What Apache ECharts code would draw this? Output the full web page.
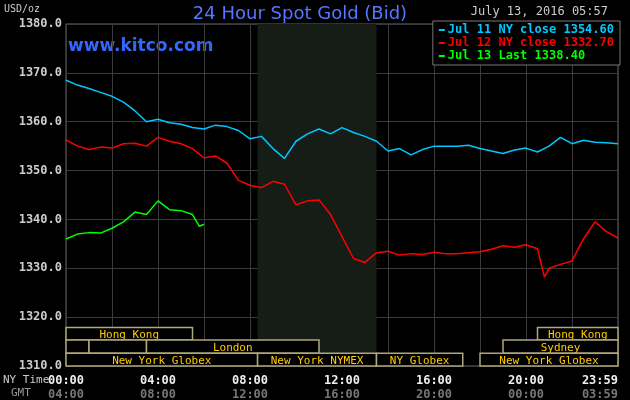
<!DOCTYPE html>
<html>
<head>
<meta charset="utf-8">
<script src="https://cdn.jsdelivr.net/npm/echarts@6/dist/echarts.min.js"></script>
<style>html,body{margin:0;padding:0;background:#000}#main{width:630px;height:400px}</style>
</head>
<body>
<div id="main"></div>
<script>
// hours since 00:00 NY time
var hoursA = [0,0.5,1,1.5,2,2.5,3,3.5,4,4.5,5,5.5,6,6.5,7,7.5,8,8.5,9,9.5,10,10.5,11,11.5,12,12.5,13,13.5,14,14.5,15,15.5,16,16.5,17,17.5,18,18.5,19,19.5,20,20.5,21,21.5,22,22.5,23,23.5,24];
var jul11 = [1368.5,1367.5,1366.8,1366.0,1365.2,1364.0,1362.2,1360.0,1360.5,1359.8,1359.5,1358.8,1358.5,1359.3,1359.0,1358.2,1356.5,1357.0,1354.5,1352.5,1356.0,1357.5,1358.5,1357.5,1358.8,1357.8,1357.0,1356.0,1354.0,1354.5,1353.2,1354.3,1355.0,1355.0,1355.0,1355.2,1354.5,1354.0,1353.5,1354.2,1354.6,1353.8,1355.0,1356.8,1355.5,1356.2,1355.8,1355.7,1355.5];
var hoursB = [0,0.5,1,1.5,2,2.5,3,3.5,4,4.5,5,5.5,6,6.5,7,7.5,8,8.5,9,9.5,10,10.5,11,11.5,12,12.5,13,13.5,14,14.5,15,15.5,16,16.5,17,17.5,18,18.5,19,19.5,20,20.5,20.8,21,21.5,22,22.5,23,23.5,24];
var jul12 = [1356.3,1355.0,1354.3,1354.8,1354.6,1355.5,1355.6,1355.0,1356.8,1356.0,1355.5,1354.5,1352.6,1353.0,1351.5,1348.0,1347.0,1346.5,1347.8,1347.2,1343.0,1343.8,1344.0,1341.0,1336.5,1332.0,1331.2,1333.2,1333.5,1332.7,1333.0,1332.8,1333.3,1333.0,1333.0,1333.2,1333.4,1333.9,1334.6,1334.3,1334.8,1334.0,1328.2,1330.0,1330.8,1331.5,1336.0,1339.5,1337.5,1336.2];
var hoursC = [0,0.5,1,1.5,2,2.5,3,3.5,4,4.5,5,5.5,5.8,6];
var jul13 = [1336.0,1337.0,1337.3,1337.2,1338.2,1339.5,1341.5,1341.0,1343.8,1342.0,1341.8,1341.0,1338.6,1339.0];
var legendNames = ['Jul 11 NY close 1354.60','Jul 12 NY close 1332.70','Jul 13 Last 1338.40'];
var colors = ['#00c8ff','#ff0000','#00ff00'];
var nyTicks = {0:'00:00',4:'04:00',8:'08:00',12:'12:00',16:'16:00',20:'20:00',24:'23:59'};
var gmtTicks = {0:'04:00',4:'08:00',8:'12:00',12:'16:00',16:'20:00',20:'00:00',24:'03:59'};
// markets: [start hour, end hour, row, label]
var markets = [
  [0,5.5,0,'Hong Kong'],[20.5,24,0,'Hong Kong'],
  [0,1,1,''],[1,3.5,1,''],[3.5,11,1,'London'],[19,24,1,'Sydney'],
  [0,8.33,2,'New York Globex'],[8.33,13.5,2,'New York NYMEX'],[13.5,17.25,2,'NY Globex'],[18,24,2,'New York Globex']
];
var rowEdges = [1317.9,1315.3,1312.6,1310];

function zip(x, y){ return x.map(function(v,i){ return [v, y[i]]; }); }
var mono = 'DejaVu Sans Mono';

var chart = echarts.init(document.getElementById('main'));
chart.setOption({
  backgroundColor: '#000',
  animation: false,
  title: {text: '24 Hour Spot Gold (Bid)', left: 295, textAlign: 'center', top: 0,
    textStyle: {color: '#5577ff', fontSize: 18, fontWeight: 'normal', fontFamily: 'DejaVu Sans'}},
  legend: {orient: 'vertical', right: 10, top: 21, itemGap: 1, itemWidth: 6, itemHeight: 2, icon: 'rect',
    backgroundColor: '#000', borderColor: '#777', borderWidth: 1, padding: [3, 6, 3, 6],
    data: legendNames.map(function(n,i){ return {name: n, textStyle: {color: colors[i]}}; }),
    textStyle: {fontFamily: mono, fontSize: 12, fontWeight: 'bold', padding: [0,0,0,-2]}},
  graphic: [
    {type: 'text', left: 4, top: 4, style: {text: 'USD/oz', fill: '#ccc', font: '10px ' + mono}},
    {type: 'text', left: 68, top: 38, style: {text: 'www.kitco.com', fill: '#3366ff', font: 'bold 17px DejaVu Sans'}},
    {type: 'text', right: 22, top: 6, style: {text: 'July 13, 2016 05:57', fill: '#ccc', font: '12px ' + mono}},
    {type: 'text', left: 3, top: 375, style: {text: 'NY Time', fill: '#ccc', font: '11px ' + mono}},
    {type: 'text', left: 11, top: 388, style: {text: 'GMT', fill: '#999', font: '11px ' + mono}}
  ],
  grid: {left: 66, right: 12, top: 24, bottom: 34, show: true, borderColor: '#666', borderWidth: 1,
    outerBoundsMode: 'none'},
  xAxis: {type: 'value', min: 0, max: 24, interval: 2,
    axisLine: {show: false}, axisTick: {show: false},
    splitLine: {lineStyle: {color: '#3a3a3a', width: 1}},
    axisLabel: {margin: 8, showMaxLabel: true, alignMaxLabel: 'right', fontFamily: mono,
      formatter: function(v){ return nyTicks[v] ? '{a|' + nyTicks[v] + '}\n{b|' + gmtTicks[v] + '}' : ''; },
      rich: {a: {color: '#eee', fontWeight: 'bold', fontSize: 12, fontFamily: mono, lineHeight: 14},
             b: {color: '#777', fontWeight: 'bold', fontSize: 12, fontFamily: mono, lineHeight: 14}}}},
  yAxis: {type: 'value', min: 1310, max: 1380, interval: 10,
    axisLine: {show: false}, axisTick: {show: false},
    splitLine: {lineStyle: {color: '#3a3a3a', width: 1}},
    axisLabel: {color: '#ccc', fontFamily: mono, fontSize: 12, fontWeight: 'bold', margin: 4,
      formatter: function(v){ return v.toFixed(1); }}},
  series: [
    {name: legendNames[0], type: 'line', data: zip(hoursA, jul11), showSymbol: false, z: 5,
      lineStyle: {color: colors[0], width: 1.5}, itemStyle: {color: colors[0]},
      markArea: {silent: true, itemStyle: {color: '#161c16'}, data: [[{xAxis: 8.33}, {xAxis: 13.5}]]}},
    {name: legendNames[1], type: 'line', data: zip(hoursB, jul12), showSymbol: false, z: 5,
      lineStyle: {color: colors[1], width: 1.5}, itemStyle: {color: colors[1]}},
    {name: legendNames[2], type: 'line', data: zip(hoursC, jul13), showSymbol: false, z: 5,
      lineStyle: {color: colors[2], width: 1.5}, itemStyle: {color: colors[2]}},
    {type: 'custom', z: 4, silent: true, data: markets,
      renderItem: function(params, api){
        var r = api.value(2);
        var p0 = api.coord([api.value(0), rowEdges[r]]);
        var p1 = api.coord([api.value(1), rowEdges[r + 1]]);
        var lbl = markets[params.dataIndex][3];
        return {type: 'group', children: [
          {type: 'rect', shape: {x: p0[0], y: p0[1], width: p1[0] - p0[0], height: p1[1] - p0[1]},
            style: {fill: '#000', stroke: '#b0a878', lineWidth: 1.5}},
          {type: 'text', style: {text: lbl, x: (p0[0] + p1[0]) / 2, y: (p0[1] + p1[1]) / 2 + 1,
            align: 'center', verticalAlign: 'middle', fill: '#ffcc00', font: '11px ' + mono}}
        ]};
      }}
  ]
});
</script>
</body>
</html>
